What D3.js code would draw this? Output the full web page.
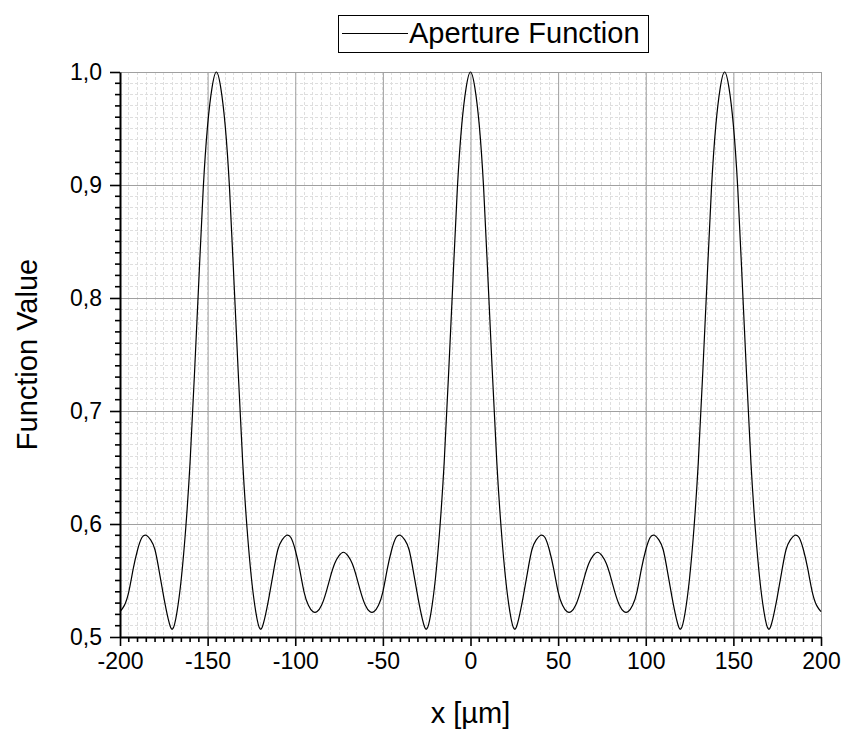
<!DOCTYPE html>
<html lang="en">
<head>
    <meta charset="UTF-8">
    <title>Aperture Function</title>
    <script src="https://d3js.org/d3.v7.min.js"></script>
    <style>
        body { margin: 0; background: #fff; }
        text { font-family: "Liberation Sans", Arial, sans-serif; fill: #000; }
    </style>
</head>
<body>
<script>
    // values (x in µm, function value), every 2.5 µm
    var xValues = [
        -200, -197.5, -195, -192.5, -190, -187.5, -185, -182.5, -180, -177.5,
        -175, -172.5, -170, -167.5, -165, -162.5, -160, -157.5, -155, -152.5,
        -150, -147.5, -145, -142.5, -140, -137.5, -135, -132.5, -130, -127.5,
        -125, -122.5, -120, -117.5, -115, -112.5, -110, -107.5, -105, -102.5,
        -100, -97.5, -95, -92.5, -90, -87.5, -85, -82.5, -80, -77.5,
        -75, -72.5, -70, -67.5, -65, -62.5, -60, -57.5, -55, -52.5,
        -50, -47.5, -45, -42.5, -40, -37.5, -35, -32.5, -30, -27.5,
        -25, -22.5, -20, -17.5, -15, -12.5, -10, -7.5, -5, -2.5,
        0, 2.5, 5, 7.5, 10, 12.5, 15, 17.5, 20, 22.5,
        25, 27.5, 30, 32.5, 35, 37.5, 40, 42.5, 45, 47.5,
        50, 52.5, 55, 57.5, 60, 62.5, 65, 67.5, 70, 72.5,
        75, 77.5, 80, 82.5, 85, 87.5, 90, 92.5, 95, 97.5,
        100, 102.5, 105, 107.5, 110, 112.5, 115, 117.5, 120, 122.5,
        125, 127.5, 130, 132.5, 135, 137.5, 140, 142.5, 145, 147.5,
        150, 152.5, 155, 157.5, 160, 162.5, 165, 167.5, 170, 172.5,
        175, 177.5, 180, 182.5, 185, 187.5, 190, 192.5, 195, 197.5,
        200
    ];
    var yValues = [
        0.5225, 0.528, 0.540, 0.560, 0.577, 0.588, 0.590, 0.586, 0.577, 0.557,
        0.535, 0.516, 0.507, 0.522, 0.552, 0.596, 0.655, 0.733, 0.816, 0.897,
        0.953, 0.986, 1.000, 0.986, 0.953, 0.897, 0.816, 0.733, 0.655, 0.596,
        0.552, 0.522, 0.507, 0.516, 0.535, 0.557, 0.577, 0.586, 0.590, 0.588,
        0.577, 0.560, 0.540, 0.528, 0.5225, 0.5225, 0.528, 0.539, 0.553, 0.565,
        0.572, 0.575, 0.572, 0.565, 0.553, 0.539, 0.528, 0.5225, 0.5225, 0.528,
        0.540, 0.560, 0.577, 0.588, 0.590, 0.586, 0.577, 0.557, 0.535, 0.516,
        0.507, 0.522, 0.552, 0.596, 0.655, 0.733, 0.816, 0.897, 0.953, 0.986,
        1.000, 0.986, 0.953, 0.897, 0.816, 0.733, 0.655, 0.596, 0.552, 0.522,
        0.507, 0.516, 0.535, 0.557, 0.577, 0.586, 0.590, 0.588, 0.577, 0.560,
        0.540, 0.528, 0.5225, 0.5225, 0.528, 0.539, 0.553, 0.565, 0.572, 0.575,
        0.572, 0.565, 0.553, 0.539, 0.528, 0.5225, 0.5225, 0.528, 0.540, 0.560,
        0.577, 0.588, 0.590, 0.586, 0.577, 0.557, 0.535, 0.516, 0.507, 0.522,
        0.552, 0.596, 0.655, 0.733, 0.816, 0.897, 0.953, 0.986, 1.000, 0.986,
        0.953, 0.897, 0.816, 0.733, 0.655, 0.596, 0.552, 0.522, 0.507, 0.516,
        0.535, 0.557, 0.577, 0.586, 0.590, 0.588, 0.577, 0.560, 0.540, 0.528,
        0.5225
    ];
    var xTicks = [-200, -150, -100, -50, 0, 50, 100, 150, 200];
    var yTicks = [0.5, 0.6, 0.7, 0.8, 0.9, 1.0];
    var seriesName = "Aperture Function";

    var w = 847, h = 731;
    var plotLeft = 120, plotRight = 821, plotTop = 72, plotBottom = 637;

    var x = d3.scaleLinear().domain([-200, 200]).range([plotLeft, plotRight]);
    var y = d3.scaleLinear().domain([0.5, 1.0]).range([plotBottom, plotTop]);

    var svg = d3.select("body").append("svg")
        .attr("width", w)
        .attr("height", h);

    // minor grid (dashed)
    var xMinor = d3.range(-200, 200.1, 5);
    var yMinor = d3.range(0, 51).map(i => +(0.5 + i * 0.01).toFixed(2));

    svg.append("g").selectAll("line")
        .data(xMinor)
        .join("line")
        .attr("x1", d => x(d)).attr("x2", d => x(d))
        .attr("y1", plotTop).attr("y2", plotBottom)
        .attr("stroke", "#dedede")
        .attr("stroke-dasharray", "3,2")
        .attr("shape-rendering", "crispEdges");

    svg.append("g").selectAll("line")
        .data(yMinor)
        .join("line")
        .attr("x1", plotLeft).attr("x2", plotRight)
        .attr("y1", d => y(d)).attr("y2", d => y(d))
        .attr("stroke", "#dedede")
        .attr("stroke-dasharray", "3,2")
        .attr("shape-rendering", "crispEdges");

    // major grid
    svg.append("g")
        .attr("transform", "translate(0," + plotBottom + ")")
        .call(d3.axisBottom(x).tickValues(xTicks).tickSize(-(plotBottom - plotTop)).tickFormat(""))
        .call(g => g.select(".domain").remove())
        .selectAll("line").attr("stroke", "#a0a0a0");

    svg.append("g")
        .attr("transform", "translate(" + plotLeft + ",0)")
        .call(d3.axisLeft(y).tickValues(yTicks).tickSize(-(plotRight - plotLeft)).tickFormat(""))
        .call(g => g.select(".domain").remove())
        .selectAll("line").attr("stroke", "#a0a0a0");

    // curve
    var points = xValues.map((d, i) => [d, yValues[i]]);
    var line = d3.line()
        .x(d => x(d[0]))
        .y(d => y(d[1]))
        .curve(d3.curveNatural);

    svg.append("path")
        .datum(points)
        .attr("fill", "none")
        .attr("stroke", "#000")
        .attr("stroke-width", 1.2)
        .attr("d", line);

    // axes
    var fmt = d3.format(".1f");
    var xAxis = svg.append("g")
        .attr("transform", "translate(0," + plotBottom + ")")
        .call(d3.axisBottom(x).tickValues(xTicks).tickSize(9).tickSizeOuter(0).tickPadding(7)
            .tickFormat(d => String(d)));
    var yAxis = svg.append("g")
        .attr("transform", "translate(" + plotLeft + ",0)")
        .call(d3.axisLeft(y).tickValues(yTicks).tickSize(10).tickSizeOuter(0).tickPadding(8)
            .tickFormat(d => fmt(d).replace(".", ",")));

    // minor ticks
    xAxis.selectAll(".minor")
        .data(xMinor.filter(d => xTicks.indexOf(d) < 0))
        .join("line")
        .attr("class", "minor")
        .attr("x1", d => x(d)).attr("x2", d => x(d))
        .attr("y1", 0).attr("y2", 5);
    yAxis.selectAll(".minor")
        .data(yMinor.filter((d, i) => i % 10 != 0))
        .join("line")
        .attr("class", "minor")
        .attr("x1", 0).attr("x2", -5)
        .attr("y1", d => y(d)).attr("y2", d => y(d));

    [xAxis, yAxis].forEach(function(g) {
        g.select(".domain").attr("stroke", "#000").attr("stroke-width", 2);
        g.selectAll("line").attr("stroke", "#000").attr("stroke-width", 1.6);
        g.selectAll("text").style("font-size", "23px")
            .style("font-family", "'Liberation Sans', Arial, sans-serif");
    });

    // axis titles
    svg.append("text")
        .attr("x", (plotLeft + plotRight) / 2)
        .attr("y", 723)
        .attr("text-anchor", "middle")
        .style("font-size", "29px")
        .text("x [µm]");

    svg.append("text")
        .attr("transform", "translate(37," + ((plotTop + plotBottom) / 2) + ") rotate(-90)")
        .attr("text-anchor", "middle")
        .style("font-size", "29px")
        .text("Function Value");

    // legend
    var legend = svg.append("g");
    legend.append("rect")
        .attr("x", 338.5).attr("y", 15.5)
        .attr("width", 310).attr("height", 37)
        .attr("fill", "#fff")
        .attr("stroke", "#000");
    legend.append("line")
        .attr("x1", 342).attr("x2", 408)
        .attr("y1", 33.5).attr("y2", 33.5)
        .attr("stroke", "#000");
    legend.append("text")
        .attr("x", 409).attr("y", 43)
        .style("font-size", "29px")
        .text(seriesName);
</script>
</body>
</html>
